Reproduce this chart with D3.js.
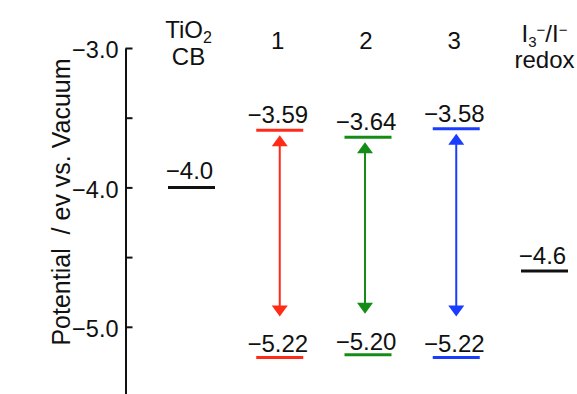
<!DOCTYPE html>
<html>
<head>
<meta charset="utf-8">
<script src="https://cdn.jsdelivr.net/npm/d3@7"></script>
<style>
  body { margin: 0; background: #fff; }
  text { font-family: "Liberation Sans", Arial, sans-serif; fill: #111; }
</style>
</head>
<body>
<svg id="chart" width="577" height="394"></svg>
<script>
// columns across the diagram
var columns = ["TiO2", "1", "2", "3", "redox"];
// dye energy levels (eV vs vacuum)
var dyes = ["1", "2", "3"];
var lumo = [-3.59, -3.64, -3.58];
var homo = [-5.22, -5.20, -5.22];
var dyeColors = ["#ff2a17", "#158c15", "#1a3cff"];
// reference levels
var tio2CB = -4.0;
var redoxLevel = -4.6;
// axis
var yTicks = [-3.0, -3.5, -4.0, -4.5, -5.0, -5.5];

var width = 577, height = 394;
var svg = d3.select("#chart");

var y = d3.scaleLinear().domain([-3, -5.5]).range([48, 396.5]);
var x = d3.scalePoint().domain(columns).range([191.5, 544.5]);
var half = 23.5;
var f2 = d3.format(".2f"), f1 = d3.format(".1f");

// axis: ticks point right, labels on the left
var axis = d3.axisLeft(y)
  .tickValues(yTicks)
  .tickSizeInner(-7)
  .tickSizeOuter(0)
  .tickPadding(7)
  .tickFormat(function(d){ return d % 1 === 0 ? f1(d) : ""; });

var gAxis = svg.append("g").attr("transform", "translate(125.5,0)").call(axis);
gAxis.select(".domain").attr("stroke", "#111").attr("stroke-width", 2);
gAxis.selectAll(".tick line").attr("stroke", "#111").attr("stroke-width", 2);
gAxis.selectAll(".tick text")
  .style("font-family", "'Liberation Sans', Arial, sans-serif")
  .style("font-size", "23.5px").attr("fill", "#111").attr("dy", "0.42em");

// axis title
svg.append("text")
  .attr("transform", "translate(70,202) rotate(-90)")
  .attr("text-anchor", "middle")
  .style("font-size", "25px")
  .attr("xml:space", "preserve")
  .text("Potential  / ev vs. Vacuum");

// column headers
var hdr = svg.append("g").style("font-size", "24px").attr("text-anchor", "middle");
var t1 = hdr.append("text").attr("x", x("TiO2") - 3).attr("y", 38);
t1.append("tspan").text("TiO");
t1.append("tspan").attr("dy", 5).style("font-size", "16px").text("2");
hdr.append("text").attr("x", x("TiO2") - 3).attr("y", 65).text("CB");

dyes.forEach(function(d){
  hdr.append("text").attr("x", x(d) - 2).attr("y", 49).text(d);
});

var t2 = hdr.append("text").attr("x", x("redox")).attr("y", 42);
t2.append("tspan").text("I");
t2.append("tspan").attr("dy", 5).style("font-size", "15px").text("3");
t2.append("tspan").attr("dy", -12).style("font-size", "15px").text("\u2212");
t2.append("tspan").attr("dy", 7).text("/I");
t2.append("tspan").attr("dy", -7).style("font-size", "15px").text("\u2212");
hdr.append("text").attr("x", x("redox")).attr("y", 68).text("redox");

// levels
function level(col, v, color, label, gap) {
  svg.append("line")
    .attr("x1", x(col) - half).attr("x2", x(col) + half)
    .attr("y1", y(v)).attr("y2", y(v))
    .attr("stroke", color).attr("stroke-width", 3);
  svg.append("text")
    .attr("x", x(col) - 2).attr("y", y(v) - gap)
    .attr("text-anchor", "middle")
    .style("font-size", "24px")
    .text(label);
}

level("TiO2", tio2CB, "#111", f1(tio2CB), 8);
level("redox", redoxLevel, "#111", f1(redoxLevel), 7);

dyes.forEach(function(d, i){
  var c = dyeColors[i];
  level(d, lumo[i], c, f2(lumo[i]), 7);
  level(d, homo[i], c, f2(homo[i]), 5);

  // double-headed arrow between the levels
  var cx = x(d) - (i === 1 ? 3 : 0), top = y(lumo[i]) + 5, bot = y(homo[i]) - 41;
  svg.append("line")
    .attr("x1", cx).attr("x2", cx)
    .attr("y1", top + 8).attr("y2", bot - 8)
    .attr("stroke", c).attr("stroke-width", 2);
  svg.append("path")
    .attr("d", "M" + cx + "," + top + "L" + (cx - 8) + "," + (top + 11) + "L" + (cx + 8) + "," + (top + 11) + "Z")
    .attr("fill", c);
  svg.append("path")
    .attr("d", "M" + cx + "," + bot + "L" + (cx - 8) + "," + (bot - 11) + "L" + (cx + 8) + "," + (bot - 11) + "Z")
    .attr("fill", c);
});
</script>
</body>
</html>
